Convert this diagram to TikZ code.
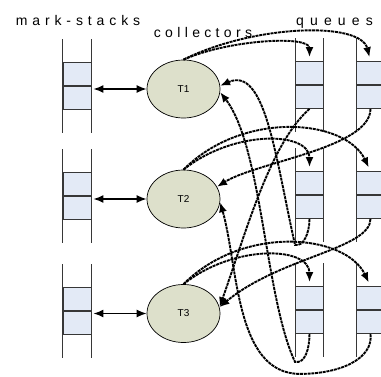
\documentclass[tikz,border=0pt]{standalone}
\usepackage{fontspec}
\setmainfont{Liberation Sans}
\usepackage{tikz}
\usetikzlibrary{shapes.geometric}
\usetikzlibrary{arrows.meta}

\newfontfamily\labelfont{Liberation Sans}
\definecolor{cellblue}{RGB}{227,234,246}
\definecolor{threadfill}{RGB}{221,224,203}
\definecolor{railgray}{RGB}{55,55,55}

\tikzset{
  cellbox/.style={draw=railgray, fill=cellblue, line width=0.9pt, minimum width=28pt, minimum height=23pt, inner sep=0pt},
  rail/.style={railgray, line width=1pt},
  thread/.style={ellipse, draw, fill=threadfill, line width=0.7pt, minimum width=73pt, minimum height=58pt, inner sep=0pt, font=\fontsize{10}{12}\selectfont},
  swap/.style={line width=1.5pt, shorten <=2pt, {Latex[length=10pt,width=8pt]}-{Latex[length=10pt,width=8pt]}},
  flow/.style={line width=1.9pt, dash pattern=on 3pt off 0.8pt, -{Latex[length=10pt,width=8pt]}},
  push/.style={flow, shorten >=4pt},
  title/.style={anchor=base, inner sep=0pt, font=\labelfont\fontsize{14}{16}\selectfont}
}

\newcommand{\cellstack}[3]{%
  \node[cellbox, anchor=south] (#1a) at (#2,#3) {};
  \node[cellbox, anchor=north] (#1b) at (#2,#3) {};
  \draw[rail] ([yshift=23pt]#1a.north west) -- ([yshift=-23pt]#1b.south west);
  \draw[rail] ([yshift=23pt]#1a.north east) -- ([yshift=-23pt]#1b.south east);
}

\begin{document}
\begin{tikzpicture}[x=1pt,y=1pt]
  \useasboundingbox (0,0) rectangle (381,376);

  \node[title] (mslabel) at (78,351) {\addfontfeature{LetterSpace=35}mark-stacks};
  \node[title] (collabel) at (203,338) {\addfontfeature{LetterSpace=31}collectors};
  \node[title] (qlabel) at (334.5,351) {\addfontfeature{LetterSpace=44}queues};

  \cellstack{ms1}{77}{290}
  \cellstack{ms2}{77}{180}
  \cellstack{ms3}{77}{65}

  \cellstack{q11}{309.5}{291}
  \cellstack{q21}{370.5}{291}
  \cellstack{q12}{309.5}{181}
  \cellstack{q22}{370.5}{181}
  \cellstack{q13}{309.5}{66}
  \cellstack{q23}{370.5}{66}

  \node[thread] (t1) at (183.5,287) {T1};
  \node[thread] (t2) at (183.5,177) {T2};
  \node[thread] (t3) at (183.5,62.5) {T3};

  \draw[swap] (ms1b.east |- t1.west) -- (t1.west);
  \draw[swap] (ms2b.east |- t2.west) -- (t2.west);
  \draw[swap] (ms3b.east |- t3.west) -- (t3.west);

  \draw[push] (t1.north) .. controls +(45,20) and +(0,26) .. (q11a.north);
  \draw[push] (t1.north) .. controls +(70,35) and +(-10,40) .. (q21a.north);
  \draw[push] (t2.north) .. controls +(50,40) and +(0,40) .. (q12a.north);
  \draw[push] (t2.north) .. controls +(60,60) and +(-25,52) .. (q22a.north);
  \draw[push] (t3.north) .. controls +(50,40) and +(0,40) .. (q13a.north);
  \draw[push] (t3.north) .. controls +(60,60) and +(-25,52) .. (q23a.north);

  \draw[flow] (q11b.south) .. controls +(-40,-35) and +(25,70) .. (t3.10);
  \draw[flow] (q21b.south) .. controls +(0,-39) and +(40,25) .. (t2.20);
  \draw[flow] (q12b.south) .. controls +(0,-15) and +(8,-2) .. ++(-14.5,-26)
    .. controls +(-20,90) and +(45,20) .. (t1.5);
  \draw[flow] (q22b.south) .. controls +(0,-30) and +(60,50) .. (t3.10);
  \draw[flow] (q13b.south) .. controls +(0,-15) and +(10,-2) .. ++(-14.5,-28)
    .. controls +(-30,64) and +(42,-54) .. (t1.-5);
  \draw[flow] (q23b.south) .. controls +(3,-25) and +(40,0) .. ++(-70.5,-40)
    .. controls +(-65,0) and +(18,-63) .. (t2.-5);
\end{tikzpicture}
\end{document}
